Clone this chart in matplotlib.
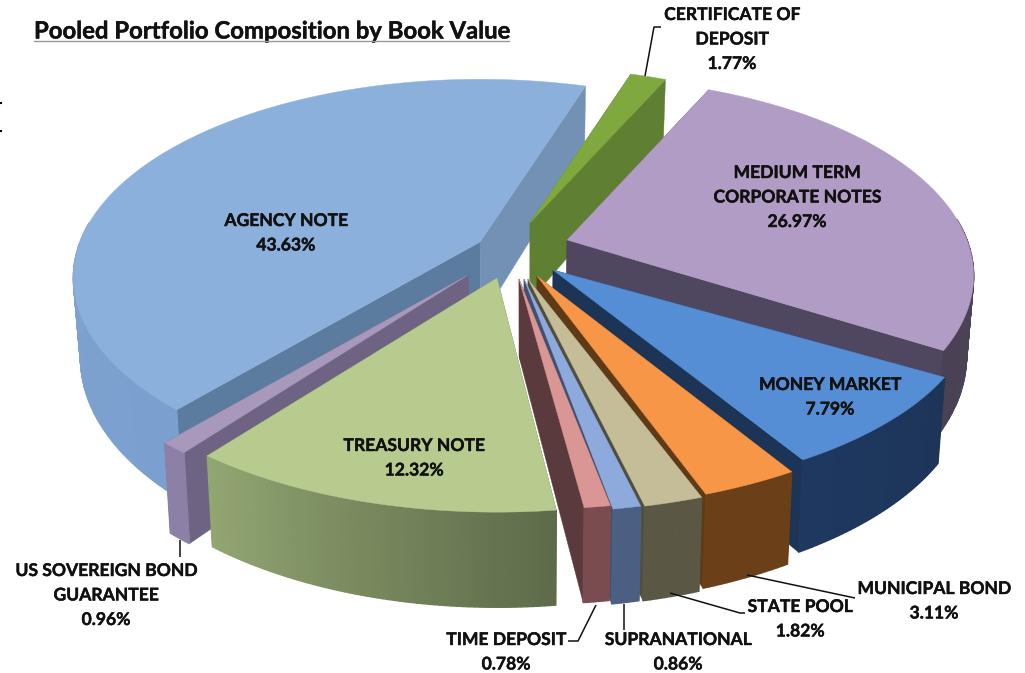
import numpy as np
import matplotlib
matplotlib.use("Agg")
import matplotlib.pyplot as plt
import matplotlib.patheffects as pe
from matplotlib.colors import to_rgb

plt.rcParams['font.family'] = ['Lato', 'DejaVu Sans']

# ---- data (clockwise from the top of the pie)
categories = ["CERTIFICATE OF\nDEPOSIT", "MEDIUM TERM\nCORPORATE NOTES", "MONEY MARKET",
              "MUNICIPAL BOND", "STATE POOL", "SUPRANATIONAL", "TIME DEPOSIT",
              "TREASURY NOTE", "US SOVEREIGN BOND\nGUARANTEE", "AGENCY NOTE"]
values = [1.77, 26.97, 7.79, 3.11, 1.82, 0.86, 0.78, 12.32, 0.96, 43.63]

# ---- style
explode_x = [5, 42, 28, 12, 3, -1, -6, -28, -57, -45]
explode_y = [-22, -5, 25, 31, 34, 34, 34, 33, 30, -3]
stretch_x = [0.955, 1.0, 1.04, 1.06, 1.09, 1.09, 1.12, 1.02, 1.0, 1.0]
stretch_y = [0.955, 1.0, 0.97, 1.0, 1.0, 1.0, 0.985, 1.0, 1.0, 1.0]
top_col = ['#7FA83E', '#B09CC4', '#558ED5', '#F79646', '#C4BD97', '#8EA9DB', '#D99694', '#B8CB8F', '#A798BC', '#8CB0DC']
arc_a = ['#6F9438', '#52485F', '#1D3557', '#6B4018', '#5A5844', '#4A5F82', '#7A4C50', '#5D6B4A', '#8D80A6', '#7AA0D0']
arc_b = ['#6F9438', '#4A4155', '#1F3860', '#6B4018', '#5A5844', '#4A5F82', '#7A4C50', '#92A672', '#8D80A6', '#88A8CC']
side_t0 = ['#5F7F32', '#4F4760', '#1C3557', '#5F3A16', '#504E3C', '#3F5070', '#5A3A3C', '#5D6B4A', '#6F6383', '#5B7C9E']
side_t1 = ['#5F7F32', '#4F4760', '#1C3557', '#5F3A16', '#504E3C', '#3F5070', '#5A3A3C', '#5D6B4A', '#6F6383', '#7391B5']
label_pos = [(732, 15), (797, 173), (830, 385), (934, 589), (800, 607), (678, 640),
             (506, 640), (414, 446), (106, 571), (286, 221)]
leaders = [[(645, 76), (654, 27), (661, 27)],
           [(747, 575), (855, 598)],
           [(670, 593), (740, 613), (745, 613)],
           [(624, 604), (624, 630)],
           [(596, 605), (578, 641), (568, 641)],
           [(180, 540), (180, 557)]]

START = 18.0
CX, CY = 525.0, 245.0
A, B, K, H = 400.0, 192.0, 0.18, 78.0
CONV = 0.016


def project(theta_deg, r=1.0):
    t = np.radians(theta_deg)
    u, v = r * np.sin(t), r * np.cos(t)
    w = 1 + K * v
    return A * u / w, -B * v / w, H / w


def mix(a, b, f):
    a, b = np.array(to_rgb(a)), np.array(to_rgb(b))
    return tuple(a + (b - a) * f)


fig = plt.figure(figsize=(10.25, 6.73), dpi=100)
ax = fig.add_axes([0, 0, 1, 1])
ax.set_xlim(0, 1025)
ax.set_ylim(673, 0)
ax.axis('off')

fractions = np.array(values) / np.sum(values) * 360
starts = START + np.concatenate([[0], np.cumsum(fractions)[:-1]])
order = [9, 0, 1, 8, 2, 3, 4, 5, 6, 7]

z = 1
for i in order:
    t0, t1 = starts[i], starts[i] + fractions[i]
    ts = np.linspace(t0, t1, max(6, int(fractions[i] * 1.5)))
    dx, dy = explode_x[i], explode_y[i]
    x, y, h = project(ts)
    ax_x = CX + dx + x * stretch_x[i]
    ax_y = CY + dy + y * stretch_y[i]
    low_x = ax_x + (CX - ax_x) * CONV
    low_y = ax_y + h
    apx, apy = CX + dx, CY + dy
    _, _, h0 = project(0, 0)
    ap_low = (apx + (CX - apx) * CONV, apy + h0)

    # radial walls
    ax.fill([apx, ax_x[0], low_x[0], ap_low[0]], [apy, ax_y[0], low_y[0], ap_low[1]],
            color=side_t0[i], lw=0.3, zorder=z)
    ax.fill([apx, ax_x[-1], low_x[-1], ap_low[0]], [apy, ax_y[-1], low_y[-1], ap_low[1]],
            color=side_t1[i], lw=0.3, zorder=z)
    z += 1
    # outer wall, shaded along the arc; the far side of the pie faces away
    for j in range(len(ts) - 1):
        if np.cos(np.radians(ts[j])) > 0.1 and np.cos(np.radians(ts[j + 1])) > 0.1:
            continue
        f = j / max(1, len(ts) - 2)
        c = mix(arc_a[i], arc_b[i], f)
        ax.fill([ax_x[j], ax_x[j + 1], low_x[j + 1], low_x[j]],
                [ax_y[j], ax_y[j + 1], low_y[j + 1], low_y[j]],
                color=c, lw=1.0, zorder=z)
    z += 1
    # top face
    ax.fill(np.r_[apx, ax_x], np.r_[apy, ax_y], color=top_col[i], lw=0.3, zorder=z)
    z += 1

# leader lines
for pts in leaders:
    xs, ys = zip(*pts)
    ax.plot(xs, ys, color='#111111', lw=1.1, zorder=z, solid_capstyle='butt')

# labels
LH = 24.5
FS = 12.6
heavy = [pe.withStroke(linewidth=0.3, foreground='#111111')]
for i, name in enumerate(categories):
    lx, ly = label_pos[i]
    lines = name.split("\n") + [f"{values[i]:.2f}%"]
    for k, line in enumerate(lines):
        ax.text(lx, ly + k * LH, line, ha='center', va='center', fontsize=FS,
                fontweight='bold', color='#111111', zorder=z + 1, path_effects=heavy)

# title
ax.text(34, 31, "Pooled Portfolio Composition by Book Value", ha='left', va='center',
        fontsize=17.2, fontweight='bold', color='#111111', zorder=z + 1, path_effects=heavy)
ax.plot([34, 509], [41, 41], color='#999999', lw=1.0, zorder=z + 1)

# page-edge ticks
ax.plot([0, 2], [103, 103], color='black', lw=1.5, solid_capstyle='butt')
ax.plot([0, 2], [131, 131], color='black', lw=1.5, solid_capstyle='butt')

fig.savefig("out.png", dpi=100)
